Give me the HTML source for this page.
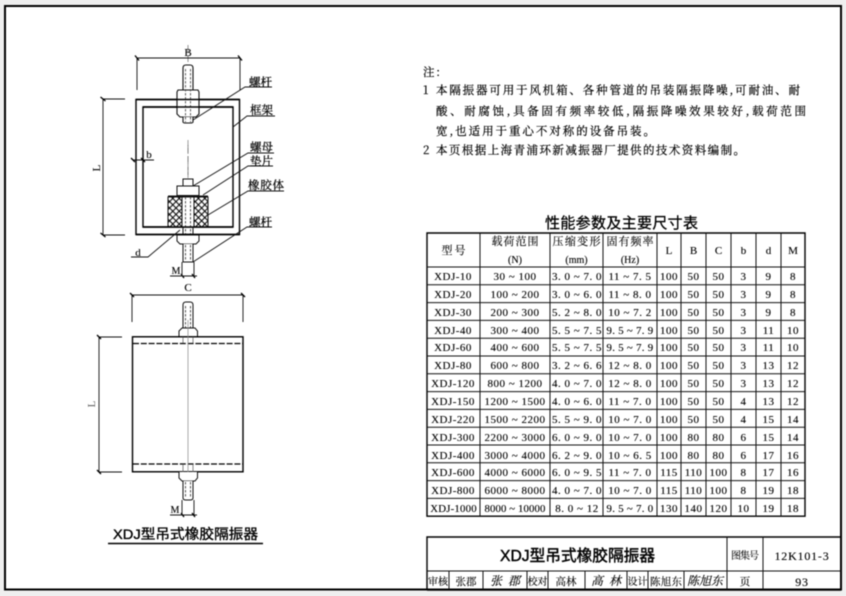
<!DOCTYPE html>
<html lang="zh">
<head>
<meta charset="utf-8">
<title>XDJ型吊式橡胶隔振器</title>
<style>
html,body{margin:0;padding:0;background:#efefef;width:846px;height:596px;overflow:hidden}
svg{display:block;filter:blur(0.4px)}
text{font-family:"Liberation Serif","Noto Serif CJK SC",serif;fill:#000;stroke:#000;stroke-width:.12}
.n text{font-size:11px;letter-spacing:.5px;text-anchor:middle}
.n .w{font-size:10.800px;letter-spacing:.3px}
.c{font-size:11px;font-family:"Noto Serif CJK SC","Liberation Serif",serif}
.l{font-size:11.5px;font-family:"Noto Serif CJK SC","Liberation Serif",serif;stroke-width:.25}
.t{font-size:11.5px;font-family:"Noto Serif CJK SC","Liberation Serif",serif;stroke-width:.2}
.s{font-family:"Liberation Sans","Noto Sans CJK SC",sans-serif}
.d{stroke:#111;stroke-width:.9;fill:none}
.h{stroke:#000;stroke-width:1.4;fill:none}
.g{stroke:#666;stroke-width:.7;fill:none}
.tb{stroke:#111;stroke-width:1;fill:none}
</style>
</head>
<body>
<svg width="846" height="596" viewBox="0 0 846 596" xmlns="http://www.w3.org/2000/svg">
<defs>
<pattern id="x" width="6.4" height="6.4" patternUnits="userSpaceOnUse">
<rect width="6.4" height="6.4" fill="#fff"/>
<path d="M0 0L6.4 6.4M6.4 0L0 6.4" stroke="#000" stroke-width="1"/>
</pattern>
</defs>
<rect x="5" y="6" width="836" height="583.5" fill="#fff" stroke="#000" stroke-width="2"/>

<!-- top drawing -->
<g>
<path class="g" d="M188 45V62M188 145V176" stroke-dasharray="8 3"/>
<path class="d" d="M137 58H240M137 58V90M240 58V90M103 99V235M103 99H125M103 235H125M133 160H154"/>
<path d="M135 55.500l4 5M238 55.500l4 5M100.500 97l5 4M100.500 233l5 4M131 158l4 4M141 158l4 4M181 274l3 4M192 274l3 4" stroke="#000" stroke-width="1.300"/>
<text x="188" y="56" font-size="11" text-anchor="middle">B</text>
<text font-size="11" text-anchor="middle" transform="translate(100,168) rotate(-90)">L</text>
<text x="149" y="158" font-size="11" text-anchor="middle">b</text>
<text x="138" y="256" font-size="11" text-anchor="middle">d</text>
<text x="176" y="274" font-size="10" text-anchor="middle">M</text>

<path class="h" d="M136 99.500H239.500V234.500H136ZM143 107H233V227H143Z"/>

<!-- upper bolt -->
<path d="M183 90V68Q183 65 186 65H190Q193 65 193 68V90" fill="#fff" stroke="#111" stroke-width="1.100"/>
<path d="M178 90H198L199 92V114L196 117H180L177 114V92Z" fill="#fff" stroke="#111" stroke-width="1.100"/>
<path d="M183 117V122Q183 123 186 123H190Q193 123 193 122V117" fill="#fff" stroke="#111" stroke-width="1.100"/>
<path d="M185.500 69V122M190.500 69V122" stroke="#555" stroke-width=".9" stroke-dasharray="2.500 1.500"/>
<path d="M136 99.500H239.500M143 107H233" class="h"/>

<!-- lower assembly -->
<path d="M188 140V178" stroke="#777" stroke-width=".7" stroke-dasharray="6 2"/>
<rect x="183" y="179" width="10" height="7" fill="#fff" stroke="#111"/>
<rect x="177" y="186" width="22" height="9.500" fill="#fff" stroke="#111"/>
<rect x="168" y="195.500" width="40" height="1.800" fill="#111"/>
<rect x="168" y="197" width="40" height="30" fill="url(#x)" stroke="#111"/>
<rect x="182" y="197" width="12" height="30" fill="#fff" stroke="#111"/>
<path d="M185.500 197V262M190.500 197V262" stroke="#444" stroke-width=".9" stroke-dasharray="2.500 1.500"/>
<path d="M143 227H233" class="h"/>
<path d="M177 235H199V241L196 244H180L177 241Z" fill="#fff" stroke="#111"/>
<path d="M183 244V262H193V244" fill="#fff" stroke="#111"/>
<path d="M185.500 245V261M190.500 245V261" stroke="#444" stroke-width=".9" stroke-dasharray="2.500 1.500"/>
<path d="M183 235V227M193 235V227" stroke="#111"/>
<path d="M136 234.500H239.500" class="h"/>
<path class="d" d="M182 262V276M194 262V276M170 276H197"/>

<!-- leaders -->
<path class="d" d="M193 120L245 87H272M233 127L247 116H275M193 186L248 153H274M203 195L248 166H273M208 215L248 191H284M193 262L247 227H272M180 230L148 257H131"/>
<text class="l" x="249" y="86" textLength="23">螺杆</text>
<text class="l" x="250" y="114" textLength="23">框架</text>
<text class="l" x="250" y="151" textLength="23">螺母</text>
<text class="l" x="250" y="165" textLength="23">垫片</text>
<text class="l" x="248" y="189" textLength="36">橡胶体</text>
<text class="l" x="249" y="226" textLength="23">螺杆</text>
</g>

<!-- lower drawing -->
<g>
<path class="d" d="M132 295H243M132 295V322M243 295V322M99 337V472M99 337H122M99 472H122M182 500V515M194 500V515M170 515H197"/>
<path d="M130 293l4 4M241 293l4 4M97 335l4 4M97 470l4 4M181 513l3 4M192 513l3 4" stroke="#000" stroke-width="1.300"/>
<text x="188" y="291" font-size="11" text-anchor="middle">C</text>
<text font-size="11" text-anchor="middle" style="fill:#555;stroke:none" transform="translate(95,404) rotate(-90)">L</text>
<text x="175" y="513" font-size="10" text-anchor="middle">M</text>
<path d="M183 328V305Q183 302 186 302H190Q193 302 193 305V328" fill="#fff" stroke="#111"/>
<path d="M185.500 306V328M190.500 306V328" stroke="#444" stroke-width=".9" stroke-dasharray="2.500 1.500"/>
<path d="M179 337V331L182 328H195L197.500 331V337Z" fill="#fff" stroke="#111"/>
<rect x="132.500" y="336.800" width="110.500" height="135" fill="#fff" stroke="#000" stroke-width="1.400"/>
<path d="M133 343.500H243M133 464H243" stroke="#000" stroke-width="1.200" stroke-dasharray="6 1.800" fill="none"/>
<path d="M188 320V472" stroke="#888" stroke-width=".7"/>
<path d="M183 337V343M193 337V343M183 464V472M193 464V472" stroke="#555" stroke-width=".7"/>
<path d="M179 472V478L182 481H195L197.500 478V472" fill="#fff" stroke="#111"/>
<path d="M183 481V498Q183 500 186 500H190Q193 500 193 498V481" fill="#fff" stroke="#111"/>
<path d="M185.500 482V498M190.500 482V498" stroke="#444" stroke-width=".9" stroke-dasharray="2.500 1.500"/>
<text class="s" x="113" y="539" font-size="14" textLength="145" lengthAdjust="spacingAndGlyphs" style="stroke-width:.35">XDJ型吊式橡胶隔振器</text>
<path d="M108 543.500H263" stroke="#000" stroke-width="1.500"/>
</g>

<!-- notes -->
<g>
<text class="t" x="423" y="76" textLength="17">注:</text>
<text class="t" x="423" y="94">1</text>
<text class="t" x="436" y="94" textLength="364">本隔振器可用于风机箱、各种管道的吊装隔振降噪,可耐油、耐</text>
<text class="t" x="436" y="115" textLength="370">酸、耐腐蚀,具备固有频率较低,隔振降噪效果较好,载荷范围</text>
<text class="t" x="436" y="135" textLength="219">宽,也适用于重心不对称的设备吊装。</text>
<text class="t" x="423" y="154">2</text>
<text class="t" x="436" y="154" textLength="309">本页根据上海青浦环新减振器厂提供的技术资料编制。</text>
</g>

<!-- table -->
<text class="s" x="545" y="228" font-size="15" textLength="153" style="stroke-width:.3">性能参数及主要尺寸表</text>
<path class="h" d="M427 233H805V516.200H427Z"/>
<path class="tb" d="M427 267H805M427 284.800H805M427 302.600H805M427 320.400H805M427 338.200H805M427 356H805M427 373.800H805M427 391.600H805M427 409.400H805M427 427.200H805M427 445H805M427 462.800H805M427 480.600H805M427 498.400H805M480 233V516M550 233V516M603 233V516M657 233V516M681 233V516M706 233V516M731 233V516M756 233V516M781 233V516"/>
<g>
<text class="c" x="453.500" y="254" text-anchor="middle" textLength="24">型号</text>
<text class="c" x="515" y="245" text-anchor="middle" textLength="47">载荷范围</text>
<text x="515" y="263" text-anchor="middle" font-size="10">(N)</text>
<text class="c" x="576.500" y="245" text-anchor="middle" textLength="48">压缩变形</text>
<text x="576.500" y="263" text-anchor="middle" font-size="10">(mm)</text>
<text class="c" x="630" y="245" text-anchor="middle" textLength="47">固有频率</text>
<text x="630" y="263" text-anchor="middle" font-size="10">(Hz)</text>
<text x="669" y="254" text-anchor="middle" font-size="11">L</text>
<text x="693.500" y="254" text-anchor="middle" font-size="11">B</text>
<text x="718.500" y="254" text-anchor="middle" font-size="11">C</text>
<text x="743.500" y="254" text-anchor="middle" font-size="11">b</text>
<text x="768.500" y="254" text-anchor="middle" font-size="11">d</text>
<text x="793" y="254" text-anchor="middle" font-size="11">M</text>
</g>
<g class="n">
<g transform="translate(0,280)"><text x="453">XDJ-10</text><text x="515">30 ~ 100</text><text x="577">3. 0 ~ 7. 0</text><text x="630">11 ~ 7. 5</text><text x="669">100</text><text x="693.500">50</text><text x="718.500">50</text><text x="743.500">3</text><text x="768.500">9</text><text x="793">8</text></g>
<g transform="translate(0,298)"><text x="453">XDJ-20</text><text x="515">100 ~ 200</text><text x="577">3. 0 ~ 6. 0</text><text x="630">11 ~ 8. 0</text><text x="669">100</text><text x="693.500">50</text><text x="718.500">50</text><text x="743.500">3</text><text x="768.500">9</text><text x="793">8</text></g>
<g transform="translate(0,316)"><text x="453">XDJ-30</text><text x="515">200 ~ 300</text><text x="577">5. 2 ~ 8. 0</text><text x="630">10 ~ 7. 2</text><text x="669">100</text><text x="693.500">50</text><text x="718.500">50</text><text x="743.500">3</text><text x="768.500">9</text><text x="793">8</text></g>
<g transform="translate(0,334)"><text x="453">XDJ-40</text><text x="515">300 ~ 400</text><text x="577">5. 5 ~ 7. 5</text><text x="630" class="w">9. 5 ~ 7. 9</text><text x="669">100</text><text x="693.500">50</text><text x="718.500">50</text><text x="743.500">3</text><text x="768.500">11</text><text x="793">10</text></g>
<g transform="translate(0,351)"><text x="453">XDJ-60</text><text x="515">400 ~ 600</text><text x="577">5. 5 ~ 7. 5</text><text x="630" class="w">9. 5 ~ 7. 9</text><text x="669">100</text><text x="693.500">50</text><text x="718.500">50</text><text x="743.500">3</text><text x="768.500">11</text><text x="793">10</text></g>
<g transform="translate(0,369)"><text x="453">XDJ-80</text><text x="515">600 ~ 800</text><text x="577">3. 2 ~ 6. 6</text><text x="630">12 ~ 8. 0</text><text x="669">100</text><text x="693.500">50</text><text x="718.500">50</text><text x="743.500">3</text><text x="768.500">13</text><text x="793">12</text></g>
<g transform="translate(0,387)"><text x="453">XDJ-120</text><text x="515">800 ~ 1200</text><text x="577">4. 0 ~ 7. 0</text><text x="630">12 ~ 8. 0</text><text x="669">100</text><text x="693.500">50</text><text x="718.500">50</text><text x="743.500">3</text><text x="768.500">13</text><text x="793">12</text></g>
<g transform="translate(0,405)"><text x="453">XDJ-150</text><text x="515">1200 ~ 1500</text><text x="577">4. 0 ~ 6. 0</text><text x="630">11 ~ 7. 0</text><text x="669">100</text><text x="693.500">50</text><text x="718.500">50</text><text x="743.500">4</text><text x="768.500">13</text><text x="793">12</text></g>
<g transform="translate(0,423)"><text x="453">XDJ-220</text><text x="515">1500 ~ 2200</text><text x="577">5. 5 ~ 9. 0</text><text x="630">10 ~ 7. 0</text><text x="669">100</text><text x="693.500">50</text><text x="718.500">50</text><text x="743.500">4</text><text x="768.500">15</text><text x="793">14</text></g>
<g transform="translate(0,441)"><text x="453">XDJ-300</text><text x="515">2200 ~ 3000</text><text x="577">6. 0 ~ 9. 0</text><text x="630">10 ~ 7. 0</text><text x="669">100</text><text x="693.500">80</text><text x="718.500">80</text><text x="743.500">6</text><text x="768.500">15</text><text x="793">14</text></g>
<g transform="translate(0,459)"><text x="453">XDJ-400</text><text x="515">3000 ~ 4000</text><text x="577">6. 2 ~ 9. 0</text><text x="630">10 ~ 6. 5</text><text x="669">100</text><text x="693.500">80</text><text x="718.500">80</text><text x="743.500">6</text><text x="768.500">17</text><text x="793">16</text></g>
<g transform="translate(0,476)"><text x="453">XDJ-600</text><text x="515">4000 ~ 6000</text><text x="577">6. 0 ~ 9. 5</text><text x="630">11 ~ 7. 0</text><text x="669">115</text><text x="693.500">110</text><text x="718.500">100</text><text x="743.500">8</text><text x="768.500">17</text><text x="793">16</text></g>
<g transform="translate(0,494)"><text x="453">XDJ-800</text><text x="515">6000 ~ 8000</text><text x="577">4. 0 ~ 7. 0</text><text x="630">10 ~ 7. 0</text><text x="669">115</text><text x="693.500">110</text><text x="718.500">100</text><text x="743.500">8</text><text x="768.500">19</text><text x="793">18</text></g>
<g transform="translate(0,512)"><text x="453.500" style="letter-spacing:.2px;font-size:10.800px">XDJ-1000</text><text x="515" style="letter-spacing:.1px;font-size:10.800px">8000 ~ 10000</text><text x="577">8. 0 ~ 12</text><text x="630" class="w">9. 5 ~ 7. 0</text><text x="669">130</text><text x="693.500">140</text><text x="718.500">120</text><text x="743.500">10</text><text x="768.500">19</text><text x="793">18</text></g>
</g>

<!-- title block -->
<path class="h" d="M427 590V537H841"/>
<path class="tb" d="M427 571H841M727 537V590M763 537V590M449 571V590M483 571V590M527 571V590M548 571V590M585 571V590M627 571V590M648 571V590M684 571V590" stroke-width=".9"/>
<text class="s" x="500" y="561" font-size="16" textLength="155" lengthAdjust="spacingAndGlyphs" style="stroke-width:.45">XDJ型吊式橡胶隔振器</text>
<text class="c" x="745" y="559" text-anchor="middle" textLength="28" style="font-size:10px">图集号</text>
<text x="802" y="560" text-anchor="middle" font-size="12" letter-spacing=".8">12K101-3</text>
<text class="c" x="438" y="585" text-anchor="middle" style="font-size:10px">审核</text>
<text class="c" x="466" y="585" text-anchor="middle" style="font-size:10.500px">张郡</text>
<text class="c" x="505" y="585" text-anchor="middle" style="font-size:12px;font-style:italic" textLength="30">张郡</text>
<text class="c" x="537.500" y="585" text-anchor="middle" style="font-size:10px">校对</text>
<text class="c" x="566" y="585" text-anchor="middle" style="font-size:10.500px">高林</text>
<text class="c" x="606" y="585" text-anchor="middle" style="font-size:12px;font-style:italic" textLength="30">高林</text>
<text class="c" x="637.500" y="585" text-anchor="middle" style="font-size:10px">设计</text>
<text class="c" x="666" y="585" text-anchor="middle" style="font-size:10.500px" textLength="32">陈旭东</text>
<text class="c" x="705" y="585" text-anchor="middle" style="font-size:12px;font-style:italic" textLength="36">陈旭东</text>
<text class="c" x="745" y="585" text-anchor="middle" style="font-size:10.500px">页</text>
<text x="802" y="586" text-anchor="middle" font-size="12" letter-spacing=".8">93</text>
<path d="M427 590H841" stroke="#000" stroke-width="1.600"/>
</svg>
</body>
</html>
